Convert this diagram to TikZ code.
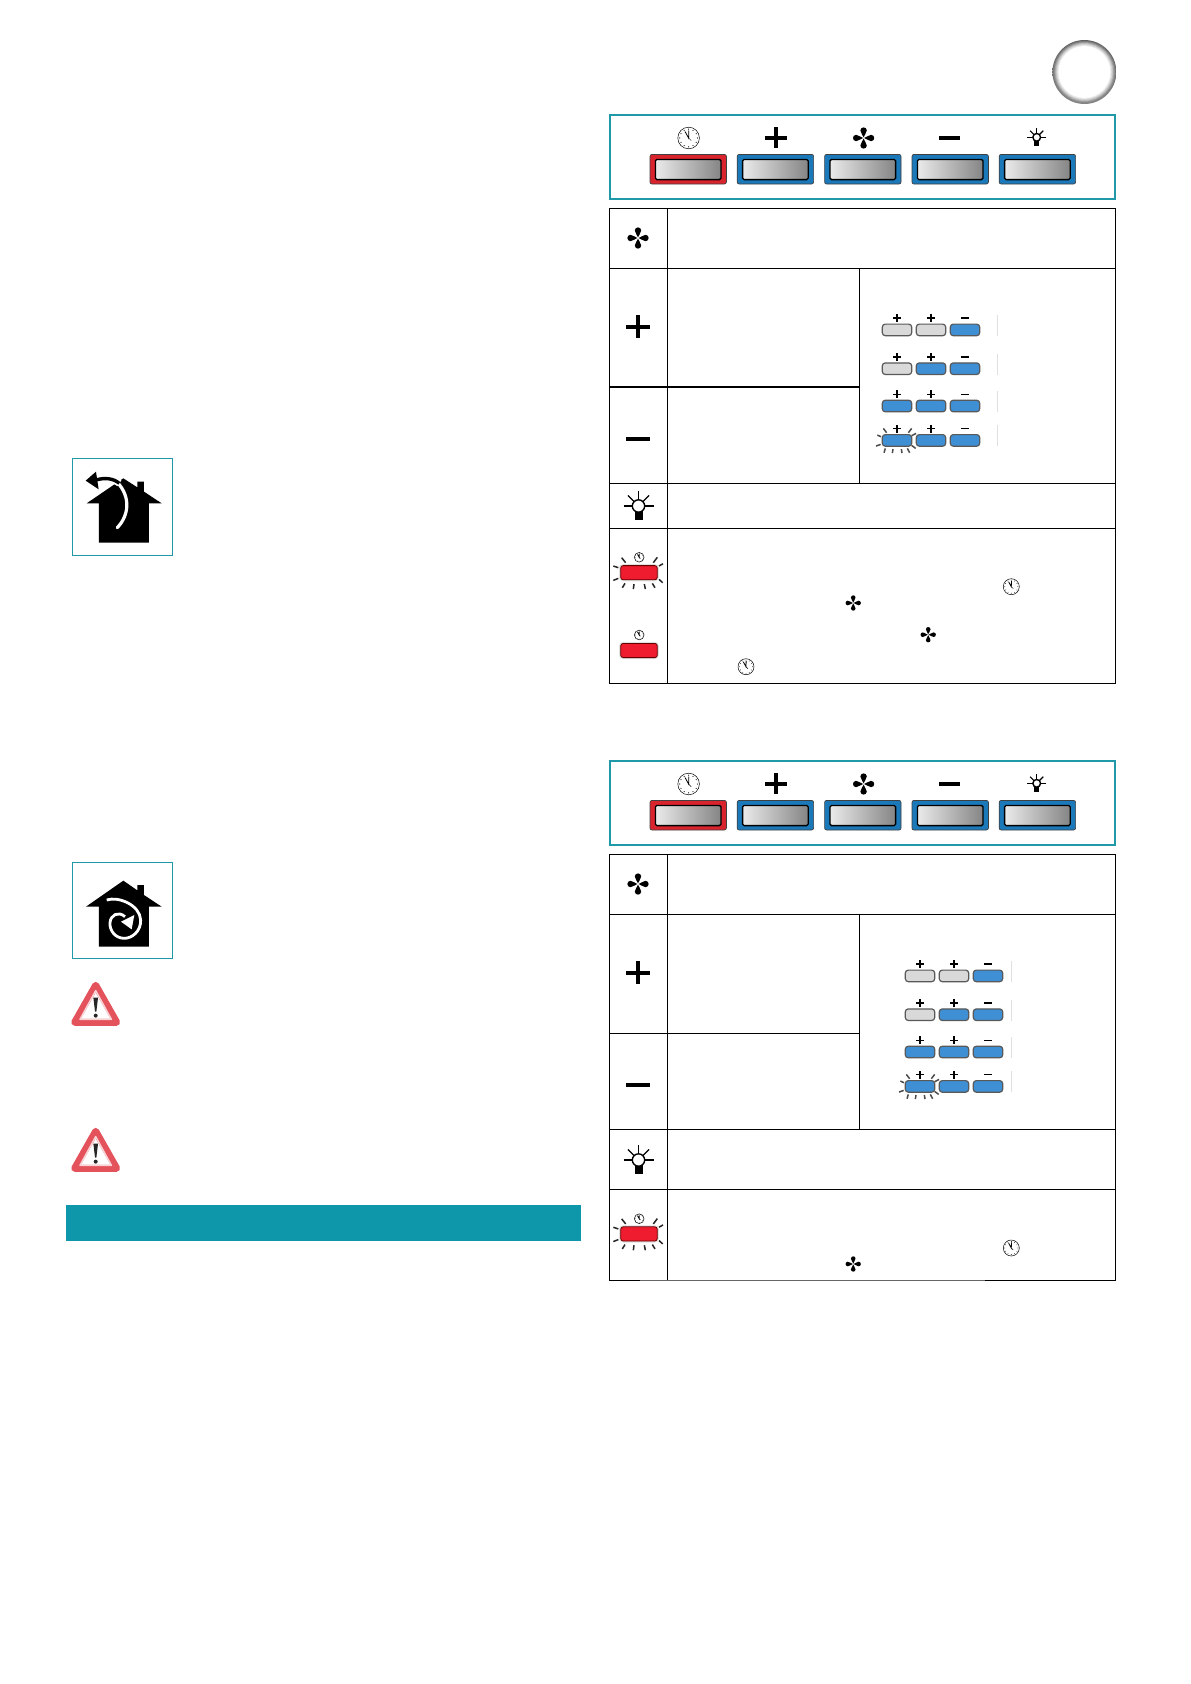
\documentclass[tikz,border=0pt]{standalone}
\definecolor{teal1}{HTML}{1F98A8}
\definecolor{bar1}{HTML}{0E97AB}
\definecolor{btnblue}{HTML}{1B79B9}
\definecolor{btnred}{HTML}{D9242E}
\definecolor{smblue}{HTML}{3F8FD4}
\definecolor{smgray}{HTML}{D9D9D9}
\definecolor{flashred}{HTML}{EE1C2E}
\definecolor{warnred}{HTML}{E4525C}
\tikzset{
  x=1pt,y=-1pt,
  tline/.style={draw=black,line width=1.1pt},
  tealbox/.style={draw=teal1,line width=1.7pt},
  iconbox/.style={draw=teal1,line width=0.9pt},
  pics/fan/.style={code={
    \foreach \a in {0,90,180,270}
      \fill[black,rotate=\a] (0,-0.6) .. controls (-0.5,-3) and (-3.3,-5.2) .. (-3.2,-7.6)
        .. controls (-3,-11.6) and (3,-11.6) .. (3.2,-7.6)
        .. controls (3.3,-5.2) and (0.5,-3) .. (0,-0.6);
  }},
  pics/plussign/.style={code={
    \fill[black] (-11.7,-2) rectangle (11.7,2);
    \fill[black] (-2,-11.7) rectangle (2,11.7);
  }},
  pics/minussign/.style={code={\fill[black] (-11.7,-2) rectangle (11.7,2);}},
  pics/bulb/.style={code={
    \foreach \a in {0,-45,-90,-135,-180}
      \draw[black,line width=1.1pt,rotate=\a] (-15,0) -- (-6,0);
    \fill[black] (-4,4) rectangle (4,14);
    \draw[black,line width=1.4pt,fill=white] (0,0) circle (6.2);
  }},
  pics/clock/.style={code={
    \draw[black,line width=0.5pt,fill=white] (0,0) circle (10.8);
    \foreach \a in {0,30,...,330}
      \fill[black,rotate=\a] (0,-8.8) circle (0.6);
    \draw[black,line width=0.8pt] (-3.6,-6.5) -- (0,0) -- (0.2,-7.5);
    \draw[black,line width=0.5pt] (0,0) -- (2.6,2.6);
  }},
  pics/bigbtn/.style={code={
    \draw[black!75,line width=0.7pt,fill=#1,rounded corners=2] (-38.2,-14.8) rectangle (38.2,14.8);
    \draw[black,line width=1.3pt,left color=black!8,right color=black!48,rounded corners=1.5]
      (-32.8,-9.8) rectangle (32.8,10.4);
  }},
  pics/smbtn/.style={code={
    \draw[black!65,line width=1.2pt,fill=#1,rounded corners=3] (-14.7,-5.8) rectangle (14.7,5.8);
  }},
  pics/redbtn/.style={code={
    \draw[black!12,line width=2pt,rounded corners=3] (-18.8,-7.6) rectangle (18.8,7.6);
    \draw[black!60!red,line width=0.8pt,fill=flashred,rounded corners=2.5] (-18.3,-7.1) rectangle (18.3,7.1);
  }},
  pics/smrays/.style={code={
    \begin{scope}[scale=0.3333,black!70,line width=1.5pt]
      \draw (-41,-36) -- (-31,-23);
      \draw (-59,-16) -- (-48,-11);
      \draw (-63,17) -- (-49,12);
      \draw (-39,37) -- (-35,24);
      \draw (-14,38) -- (-12,26);
      \draw (13,26) -- (15,38);
      \draw (31,24) -- (38,37);
      \draw (44,15) -- (56,24);
      \draw (34,-23) -- (44,-36);
      \draw (44,-14) -- (57,-21);
    \end{scope}
  }},
  pics/bigrays/.style={code={
    \begin{scope}[scale=0.3333,black!85,line width=1.5pt]
      \draw (-52,-45) -- (-40,-30);
      \draw (-77,-20) -- (-62,-15);
      \draw (-77,23) -- (-62,17);
      \draw (-50,45) -- (-42,32);
      \draw (-17,49) -- (-15,34);
      \draw (16,34) -- (19,49);
      \draw (40,32) -- (48,45);
      \draw (60,20) -- (71,30);
      \draw (43,-30) -- (55,-46);
      \draw (60,-20) -- (72,-27);
    \end{scope}
  }},
  pics/warning/.style={code={
    \begin{scope}[scale=0.3333]
      \draw[warnred,line width=7pt,line join=round,fill=white] (0,6) -- (-63,117) -- (63,117) -- cycle;
      \draw[white!75!warnred,line width=1.5pt,line join=round] (0,22) -- (-47,108) -- (47,108) -- cycle;
      \fill[black!85] (-7,43) -- (7,43) -- (2,85) -- (-2,85) -- cycle;
      \fill[black!85] (0,97) circle (6);
    \end{scope}
  }}
}
\newcommand{\ctrlpanel}[1]{%
  \begin{scope}[yshift=#1]
    \draw[tealbox] (609.7,115) rectangle (1115.3,199);
    \pic at (688.2,169.2) {bigbtn=btnred};
    \pic at (775.4,169.2) {bigbtn=btnblue};
    \pic at (862.8,169.2) {bigbtn=btnblue};
    \pic at (950.2,169.2) {bigbtn=btnblue};
    \pic at (1037.4,169.2) {bigbtn=btnblue};
    \pic at (688.6,138) {clock};
    \pic[scale=0.9] at (776,137.7) {plussign};
    \pic at (863.6,138) {fan};
    \fill[black] (938.6,136) rectangle (960.4,140);
    \pic[scale=0.62] at (1036.7,137.3) {bulb};
  \end{scope}}
\newcommand{\smgroup}[3]{% xshift, yshift, faint line x
  \begin{scope}[shift={(#1,#2)}]
    \foreach \yy/\ca/\cb in {329.9/smgray/smgray,368.7/smgray/smblue,406/smblue/smblue,440.4/smblue/smblue}{
      \pic at (897,\yy) {smbtn=\ca};
      \pic at (931,\yy) {smbtn=\cb};
      \pic at (965,\yy) {smbtn=smblue};
    }
    \foreach \yy in {317.9,357,394.2,428.6}{
      \pic[scale=0.34] at (897,\yy) {plussign};
      \pic[scale=0.34] at (931,\yy) {plussign};
      \pic[scale=0.34] at (965,\yy) {minussign};
    }
    \pic at (897,440.4) {smrays};
    \foreach \yy in {315,354,391,425}
      \draw[black!12,line width=0.7pt] (#3,\yy) -- (#3,\yy+21);
  \end{scope}}
\begin{document}
\begin{tikzpicture}
\useasboundingbox (0,0) rectangle (1191,1684);
\fill[white] (0,0) rectangle (1191,1684);

% corner ring
\shade[top color=black!62,bottom color=black!48] (1084.4,72) circle (32);
\fill[black!45,opacity=.6] (1084.4,72) circle (31);
\fill[black!34,opacity=.7] (1084.4,72) circle (30);
\fill[black!24,opacity=.8] (1084.4,72) circle (29);
\fill[black!14,opacity=.8] (1084.4,72) circle (28);
\fill[black!7,opacity=.8] (1084.4,72) circle (27);
\fill[white] (1084.4,72) circle (26);

% upper control panel
\ctrlpanel{0}
% upper table
\draw[tline] (609.7,208.7) rectangle (1115.3,683.3);
\draw[tline] (667.6,208.7) -- (667.6,683.3);
\draw[tline] (609.7,268.3) -- (1115.3,268.3);
\draw[tline] (609.7,387) -- (859.6,387);
\draw[tline] (859.6,268.3) -- (859.6,483.3);
\draw[tline] (609.7,483.3) -- (1115.3,483.3);
\draw[tline] (609.7,528.3) -- (1115.3,528.3);
\pic at (638,238) {fan};
\pic at (638,326.7) {plussign};
\pic at (638,439) {minussign};
\pic at (638.5,506) {bulb};
\smgroup{0}{0}{997}
\pic at (639,572.7) {redbtn};
\pic at (639,572.7) {bigrays};
\pic[scale=0.45] at (639.2,557.3) {clock};
\pic at (639,650.5) {redbtn};
\pic[scale=0.45] at (639.2,635) {clock};
\pic[scale=0.74] at (1011.3,586.7) {clock};
\pic[scale=0.72] at (853.2,603) {fan};
\pic[scale=0.72] at (928.2,634.7) {fan};
\pic[scale=0.74] at (746,666.7) {clock};

% lower control panel
\ctrlpanel{-646}
% lower table
\draw[tline] (609.7,854.5) rectangle (1115.3,1280.3);
\draw[tline] (667.6,854.5) -- (667.6,1280.3);
\draw[tline] (609.7,914.3) -- (1115.3,914.3);
\draw[tline] (609.7,1033.2) -- (859.6,1033.2);
\draw[tline] (859.6,914.3) -- (859.6,1129.3);
\draw[tline] (609.7,1129.3) -- (1115.3,1129.3);
\draw[tline] (609.7,1189.3) -- (1115.3,1189.3);
\draw[black!60,line width=1pt] (640,1280.3) -- (985,1280.3);
\pic at (638,884) {fan};
\pic at (638,972.7) {plussign};
\pic at (638,1085) {minussign};
\pic at (638.5,1160) {bulb};
\smgroup{23}{646}{988}
\pic at (639,1233.9) {redbtn};
\pic at (639,1233.9) {bigrays};
\pic[scale=0.45] at (639.2,1218.7) {clock};
\pic[scale=0.74] at (1011.3,1248) {clock};
\pic[scale=0.72] at (853.2,1264) {fan};

% icon boxes
\draw[iconbox] (72.3,458.3) rectangle (172.7,555.3);
\begin{scope}[shift={(60,450)},scale=0.3333]
  \fill[black] (80,160) -- (190,85) -- (232,112) -- (232,95) -- (252,95) -- (252,125) -- (305,160)
    -- (267,160) -- (267,278) -- (117,278) -- (117,160) -- cycle;
  \draw[white,line width=3.2pt,line cap=round] (172,233) .. controls (208,195) and (212,140) .. (172,97);
  \draw[white,line width=7pt] (178,100) .. controls (160,85) and (135,82) .. (108,90);
  \draw[black,line width=3.4pt] (178,100) .. controls (160,85) and (135,82) .. (108,90);
  \fill[black] (77,92) -- (108,65) -- (116,118) -- cycle;
\end{scope}
\draw[iconbox] (72.3,862.3) rectangle (172.7,958.3);
\begin{scope}[shift={(60,850)},scale=0.3333]
  \fill[black] (78,170) -- (190,92) -- (232,121) -- (232,105) -- (252,105) -- (252,135) -- (305,170)
    -- (267,170) -- (267,290) -- (117,290) -- (117,170) -- cycle;
\end{scope}
\begin{scope}[shift={(75,870)},scale=0.3333]
  \draw[white,line width=2.8pt] (95,90) .. controls (130,78) and (195,105) .. (197,150)
    .. controls (198,185) and (170,205) .. (148,205)
    .. controls (120,205) and (103,180) .. (105,158)
    .. controls (107,135) and (130,122) .. (150,140);
  \fill[white] (138,155) -- (178,135) -- (170,178) -- cycle;
\end{scope}

% warnings
\pic at (95.7,983.3) {warning};
\pic at (95.7,1129.3) {warning};

% teal band
\fill[bar1] (65.5,1205) rectangle (581,1240.5);
\end{tikzpicture}
\end{document}
